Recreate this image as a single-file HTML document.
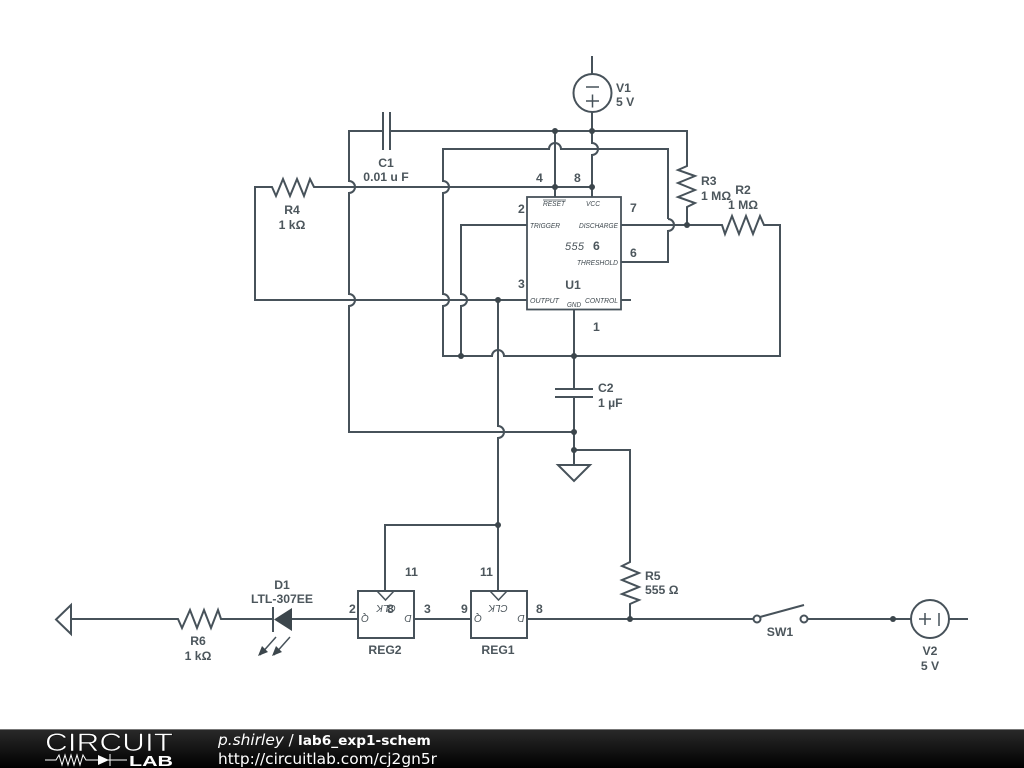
<!DOCTYPE html>
<html><head><meta charset="utf-8"><style>
html,body{margin:0;padding:0;background:#fff;width:1024px;height:768px;overflow:hidden}
svg{display:block}
.w{fill:none;stroke:#47525a;stroke-width:2}
.d{fill:#3c464c}
text{font-family:"Liberation Sans",sans-serif}
.l{font-size:12.2px;font-weight:bold;fill:#4c565c;text-anchor:middle}
.s{font-size:12.2px;font-weight:bold;fill:#4c565c}
.p{font-size:7px;font-style:italic;fill:#3f494f}
.q{font-size:10px;font-style:italic;fill:#4c565c;text-anchor:middle}
.f{font-family:"DejaVu Sans",sans-serif;font-size:14px;fill:#fff}
</style></head><body>
<svg width="1024" height="768" viewBox="0 0 1024 768" xmlns="http://www.w3.org/2000/svg">
<defs><linearGradient id="g" x1="0" y1="0" x2="0" y2="1"><stop offset="0" stop-color="#2a2a2a"/><stop offset="1" stop-color="#000"/></linearGradient></defs>
<rect width="1024" height="768" fill="#fff"/>
<g class="w">
<!-- V1 -->
<path d="M592 56V74"/><circle cx="592.5" cy="93" r="19"/>
<path d="M586 87H599M586 101H599M592.500 94.500V107.500" stroke-width="1.500"/>
<path d="M592 112V143A6 6 0 0 1 592 155V197"/>
<!-- top rail -->
<path d="M383 131H349V181A6 6 0 0 1 349 193V294A6 6 0 0 1 349 306V432H574"/>
<path d="M383 112V150M390 112V150"/>
<path d="M390 131H687V166L678 170L695 176L678 183L695 190L678 197L695 203L687 207V225"/>
<path d="M555 131V197"/>
<!-- y149 loop -->
<path d="M668 219V149H561A6 6 0 0 0 549 149H443V181A6 6 0 0 1 443 193V294A6 6 0 0 1 443 306V356H492A6 6 0 0 1 504 356H780V225H764L760 216L753 234L746 216L739 234L732 216L725 234L722 225H621"/>
<path d="M668 219A6 6 0 0 1 668 231V262H621"/>
<!-- R4 loop -->
<path d="M592 187H314L310 179L304 196L297 179L290 196L283 179L276 196L272 187H255V300H527"/>
<!-- trigger -->
<path d="M527 225H461V294A6 6 0 0 1 461 306V356"/>
<!-- output down -->
<path d="M498 300V426A6 6 0 0 1 498 438V592M498 525H385V592"/>
<!-- 555 -->
<rect x="527" y="197" width="94" height="112.500" stroke-width="1.800"/>
<path d="M621 300H631"/>
<!-- C2/GND -->
<path d="M574 310V389M555 389H593M555 397H593M574 397V465M558 465H590L574 481Z"/>
<path d="M574 450H630V562L622 566L639 573L622 580L639 587L622 594L639 600L630 604V619"/>
<!-- bottom wire -->
<path d="M71 605V634L56 619.500ZM71 619H178L182 628L190 610L197 628L204 610L211 628L218 610L221 619H273"/>
<path d="M273 607V632"/>
<path d="M292 619H358"/>
<rect x="358" y="591" width="56" height="47"/><rect x="471" y="591" width="56" height="47"/>
<path d="M414 619H471M527 619H753"/>
<path d="M377 591L385.500 600L394 591M490 591L498.500 600L507 591" stroke-width="1.500"/>
<circle cx="757" cy="619" r="3.500"/><circle cx="804" cy="619" r="3.500"/>
<path d="M760 617L804 605M808 619H911"/>
<circle cx="930" cy="619" r="19"/>
<path d="M919 619H931M925 613V625M939 613V626" stroke-width="1.500"/>
<path d="M949 619H968"/>
<!-- LED arrows -->
<path d="M276 637L260 655M290 637L274 655" stroke-width="1.500"/>
</g>
<g class="d">
<path d="M292 608V631L274 619.500Z"/>
<path d="M258 656L262 646L268 652ZM272 656L276 646L282 652Z"/>
<circle cx="555" cy="131" r="3"/><circle cx="592" cy="131" r="3"/>
<circle cx="555" cy="187" r="3"/><circle cx="592" cy="187" r="3"/>
<circle cx="687" cy="225" r="3"/><circle cx="498" cy="300" r="3"/>
<circle cx="461" cy="356" r="3"/><circle cx="574" cy="356" r="3"/>
<circle cx="574" cy="432" r="3"/><circle cx="574" cy="450" r="3"/>
<circle cx="498" cy="525" r="3"/><circle cx="630" cy="619" r="3"/><circle cx="893" cy="619" r="3"/>
</g>
<!-- labels -->
<text class="s" x="616" y="92">V1</text><text class="s" x="616" y="106">5 V</text>
<text class="l" x="386" y="167">C1</text><text class="l" x="386" y="181">0.01 u F</text>
<text class="l" x="292" y="214">R4</text><text class="l" x="292" y="229">1 kΩ</text>
<text class="s" x="701" y="185">R3</text><text class="s" x="701" y="200">1 MΩ</text>
<text class="l" x="743" y="194">R2</text><text class="l" x="743" y="209">1 MΩ</text>
<text class="s" x="536" y="182">4</text><text class="s" x="574" y="182">8</text>
<text class="s" x="518" y="213">2</text><text class="s" x="630" y="212">7</text>
<text class="s" x="593" y="250">6</text><text class="s" x="630" y="257">6</text>
<text class="s" x="518" y="288">3</text><text class="s" x="593" y="331">1</text>
<text class="l" x="573" y="289">U1</text>
<text x="565" y="250" style="font-size:11px;font-style:italic;fill:#4c565c" textLength="19">555</text>
<text class="p" x="543" y="206" textLength="22" lengthAdjust="spacingAndGlyphs">RESET</text><path d="M543 200H566" stroke="#4c565c" stroke-width=".8"/>
<text class="p" x="586" y="206" textLength="14" lengthAdjust="spacingAndGlyphs">VCC</text>
<text class="p" x="530" y="228" textLength="30" lengthAdjust="spacingAndGlyphs">TRIGGER</text>
<text class="p" x="579" y="228" textLength="39" lengthAdjust="spacingAndGlyphs">DISCHARGE</text>
<text class="p" x="577" y="265" textLength="41" lengthAdjust="spacingAndGlyphs">THRESHOLD</text>
<text class="p" x="530" y="303" textLength="29" lengthAdjust="spacingAndGlyphs">OUTPUT</text>
<text class="p" x="585" y="303" textLength="33" lengthAdjust="spacingAndGlyphs">CONTROL</text>
<text class="p" x="567" y="307" textLength="14" lengthAdjust="spacingAndGlyphs">GND</text>
<text class="s" x="598" y="392">C2</text><text class="s" x="598" y="407">1 µF</text>
<text class="s" x="645" y="580">R5</text><text class="s" x="645" y="594">555 Ω</text>
<text class="l" x="282" y="604" dy="-15">D1</text><text class="l" x="282" y="603">LTL-307EE</text>
<text class="l" x="198" y="645">R6</text><text class="l" x="198" y="660">1 kΩ</text>
<text class="l" x="385" y="654">REG2</text><text class="l" x="498" y="654">REG1</text>
<text class="l" x="780" y="636">SW1</text>
<text class="l" x="930" y="655">V2</text><text class="l" x="930" y="670">5 V</text>
<text class="s" x="405" y="576">11</text><text class="s" x="480" y="576">11</text>
<text class="s" x="349" y="613">2</text><text class="s" x="424" y="613">3</text>
<text class="s" x="461" y="613">9</text><text class="s" x="536" y="613">8</text>
<text class="s" x="387" y="613">8</text>
<text class="q" transform="rotate(180 386 605)" x="386" y="605">CLK</text>
<text class="q" transform="rotate(180 498 605)" x="498" y="605">CLK</text>
<text class="q" transform="rotate(180 365 615)" x="365" y="615">Q</text>
<text class="q" transform="rotate(180 408 615)" x="408" y="615">D</text>
<text class="q" transform="rotate(180 478 615)" x="478" y="615">Q</text>
<text class="q" transform="rotate(180 521 615)" x="521" y="615">D</text>
<!-- footer -->
<rect x="0" y="729" width="1024" height="39" fill="url(#g)"/>
<rect x="0" y="729" width="1024" height="1" fill="#777"/>
<text x="45" y="751" style="font-size:25px" fill="#fff" stroke="#111" stroke-width=".6" textLength="128" lengthAdjust="spacingAndGlyphs">CIRCUIT</text>
<text x="129" y="766" style="font-size:15px;font-weight:bold" fill="#fff" textLength="44" lengthAdjust="spacingAndGlyphs">LAB</text>
<path d="M45 760H56L59 755L62 765L65 755L68 765L71 755L74 765L77 755L80 765L83 755L86 760H98M108 760H127M110 754V766" fill="none" stroke="#fff" stroke-width="1"/>
<path d="M98 755V765L109 760Z" fill="#fff"/>
<text class="f" x="218" y="745"><tspan font-style="italic" style="font-size:15.400px">p.shirley</tspan><tspan style="font-size:15px"> / </tspan><tspan font-weight="bold" x="298" style="font-size:13.700px">lab6_exp1-schem</tspan></text>
<text class="f" x="218" y="764" style="font-size:15px" textLength="219" lengthAdjust="spacingAndGlyphs">http://circuitlab.com/cj2gn5r</text>
</svg>
</body></html>
